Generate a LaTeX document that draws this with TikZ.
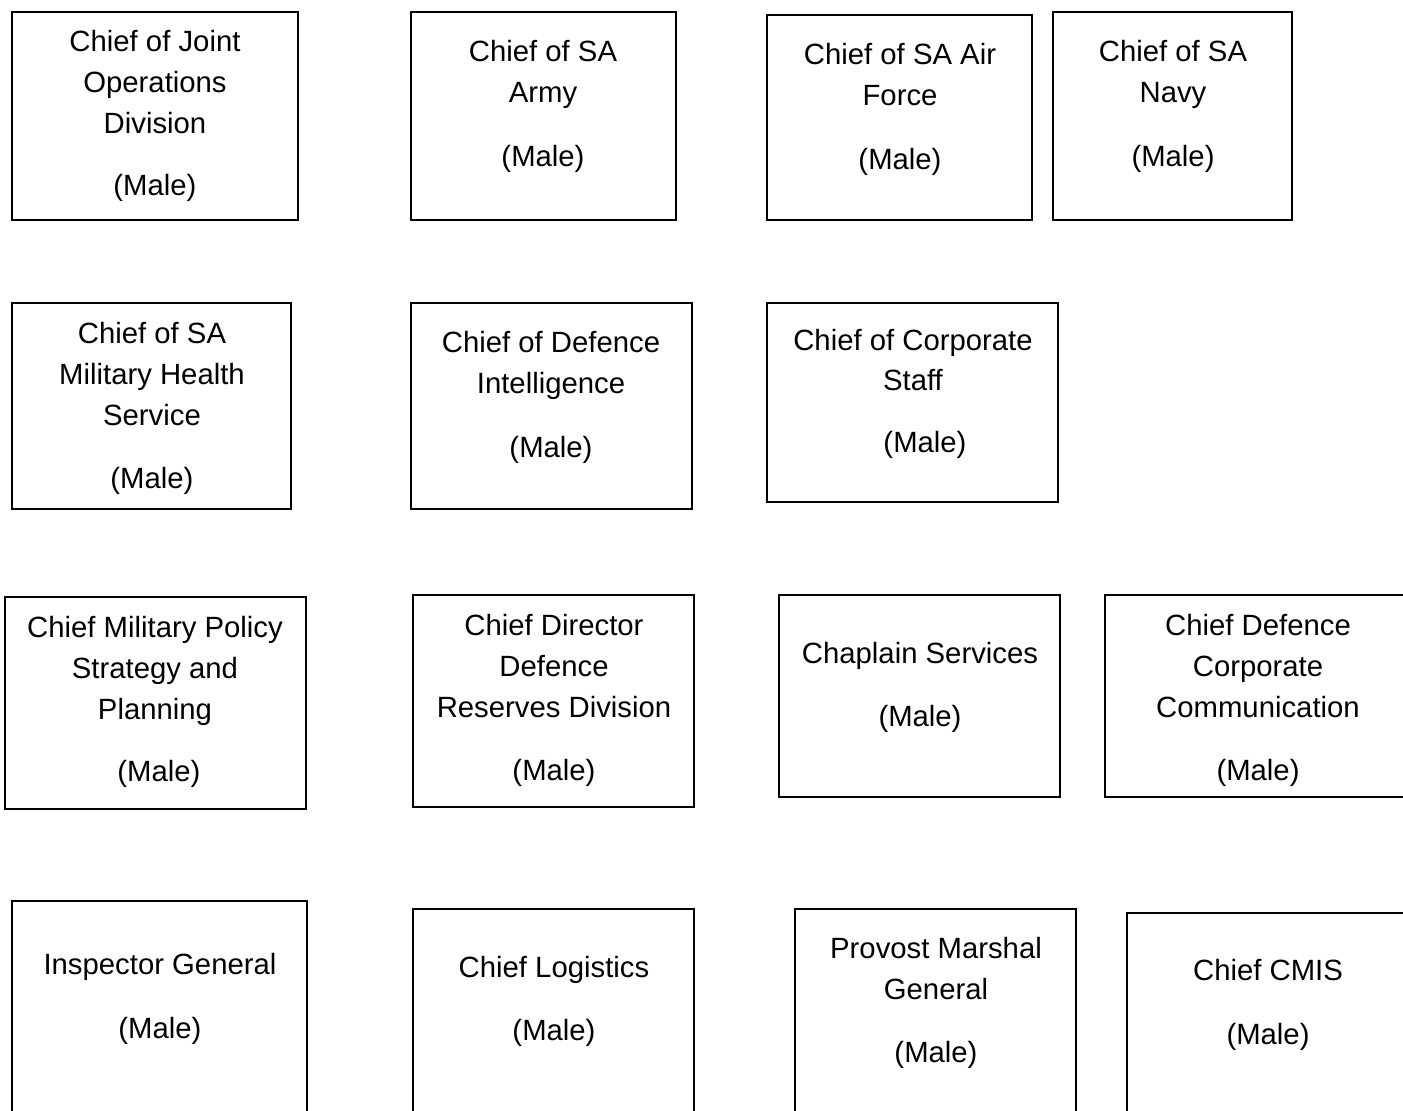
\documentclass[tikz,border=0pt]{standalone}
\usepackage{fontspec}
\setmainfont{Liberation Sans}
\begin{document}
\begin{tikzpicture}[x=1pt,y=-1pt,
  box/.style={draw=black, line width=2pt, fill=none, inner sep=0pt},
  lbl/.style={anchor=base, inner sep=0pt, font=\fontsize{29.3}{33}\selectfont, text=black}]
\useasboundingbox (0,0) rectangle (1403,1111);
\fill[white] (0,0) rectangle (1403,1111);
\clip (0,0) rectangle (1403,1111);
% Row 1
\node[box, minimum width=286pt, minimum height=208pt] (A) at (155,116) {};
\node[lbl] (A1) at (155,51) {Chief of Joint};
\node[lbl] (A2) at (155,92) {Operations};
\node[lbl] (A3) at (155,133) {Division};
\node[lbl] (A4) at (155,195) {(Male)};
\node[box, minimum width=265pt, minimum height=208pt] (B) at (543.5,116) {};
\node[lbl] (B1) at (543,61) {Chief of SA};
\node[lbl] (B2) at (543,102) {Army};
\node[lbl] (B3) at (543,166) {(Male)};
\node[box, minimum width=265pt, minimum height=205pt] (C) at (899.5,117.5) {};
\node[lbl] (C1) at (900,64) {Chief of SA Air};
\node[lbl] (C2) at (900,105) {Force};
\node[lbl] (C3) at (900,169) {(Male)};
\node[box, minimum width=239pt, minimum height=208pt] (D) at (1172.5,116) {};
\node[lbl] (D1) at (1173,61) {Chief of SA};
\node[lbl] (D2) at (1173,102) {Navy};
\node[lbl] (D3) at (1173,166) {(Male)};
% Row 2
\node[box, minimum width=279pt, minimum height=206pt] (E) at (151.5,406) {};
\node[lbl] (E1) at (152,343) {Chief of SA};
\node[lbl] (E2) at (152,384) {Military Health};
\node[lbl] (E3) at (152,425) {Service};
\node[lbl] (E4) at (152,488) {(Male)};
\node[box, minimum width=281pt, minimum height=206pt] (F) at (551.5,406) {};
\node[lbl] (F1) at (551,352) {Chief of Defence};
\node[lbl] (F2) at (551,393) {Intelligence};
\node[lbl] (F3) at (551,457) {(Male)};
\node[box, minimum width=291pt, minimum height=199pt] (G) at (912.5,402.5) {};
\node[lbl] (G1) at (913,350) {Chief of Corporate};
\node[lbl] (G2) at (913,390) {Staff};
\node[lbl] (G3) at (925,452) {(Male)};
% Row 3
\node[box, minimum width=301pt, minimum height=212pt] (H) at (155.5,703) {};
\node[lbl] (H1) at (155,637) {Chief Military Policy};
\node[lbl] (H2) at (155,678) {Strategy and};
\node[lbl] (H3) at (155,719) {Planning};
\node[lbl] (H4) at (159,781) {(Male)};
\node[box, minimum width=281pt, minimum height=212pt] (I) at (553.5,701) {};
\node[lbl] (I1) at (554,635) {Chief Director};
\node[lbl] (I2) at (554,676) {Defence};
\node[lbl] (I3) at (554,717) {Reserves Division};
\node[lbl] (I4) at (554,780) {(Male)};
\node[box, minimum width=281pt, minimum height=202pt] (J) at (919.5,696) {};
\node[lbl] (J1) at (920,663) {Chaplain Services};
\node[lbl] (J2) at (920,726) {(Male)};
\node[box, minimum width=315pt, minimum height=202pt] (K) at (1262.5,696) {};
\node[lbl] (K1) at (1258,635) {Chief Defence};
\node[lbl] (K2) at (1258,676) {Corporate};
\node[lbl] (K3) at (1258,717) {Communication};
\node[lbl] (K4) at (1258,780) {(Male)};
% Row 4
\node[box, minimum width=295pt, minimum height=229pt] (L) at (159.5,1015.5) {};
\node[lbl] (L1) at (160,974) {Inspector General};
\node[lbl] (L2) at (160,1038) {(Male)};
\node[box, minimum width=281pt, minimum height=221pt] (M) at (553.5,1019.5) {};
\node[lbl] (M1) at (554,977) {Chief Logistics};
\node[lbl] (M2) at (554,1040) {(Male)};
\node[box, minimum width=281pt, minimum height=221pt] (N) at (935.5,1019.5) {};
\node[lbl] (N1) at (936,958) {Provost Marshal};
\node[lbl] (N2) at (936,999) {General};
\node[lbl] (N3) at (936,1062) {(Male)};
\node[box, minimum width=293pt, minimum height=217pt] (O) at (1273.5,1021.5) {};
\node[lbl] (O1) at (1268,980) {Chief CMIS};
\node[lbl] (O2) at (1268,1044) {(Male)};
\end{tikzpicture}
\end{document}
